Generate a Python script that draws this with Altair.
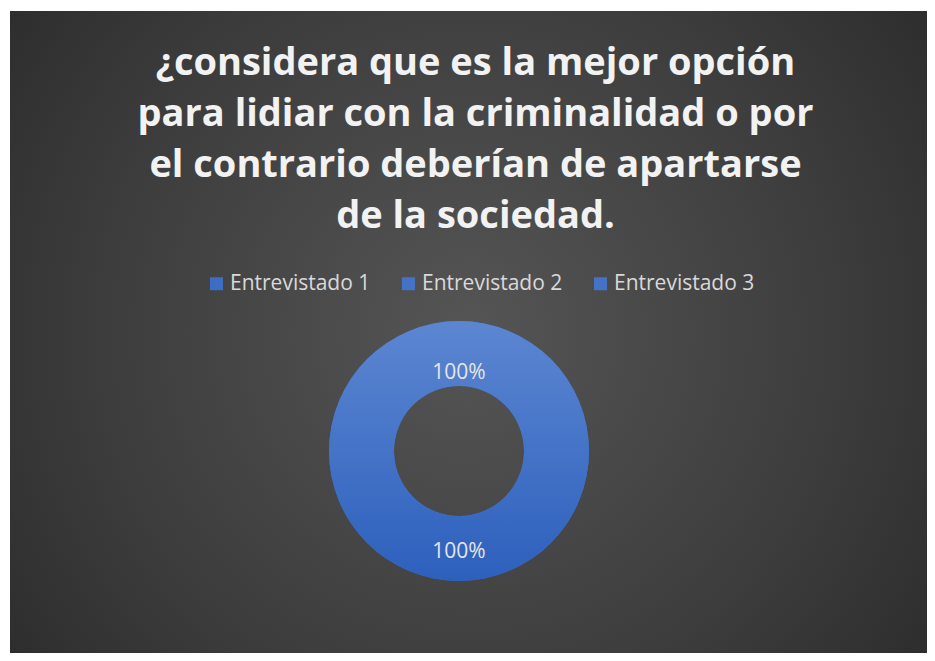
import altair as alt
import pandas as pd

# ---- data ----
title_lines = [
    "¿considera que es la mejor opción",
    "para lidiar con la criminalidad o por",
    "el contrario deberían de apartarse",
    "de la sociedad.",
]
categories = ["Entrevistado 1", "Entrevistado 2", "Entrevistado 3"]
values = [1, 0, 0]
labels = ["100%", "100%", ""]
legend_colors = ["#3E6DC4", "#4472C4", "#4472C4"]

df = pd.DataFrame({"category": categories, "value": values, "label": labels,
                   "order": list(range(len(categories)))})

W, H = 917, 642
CX, CY = 449, 440
TX = 465.5

bg_grad = alt.RadialGradient(
    gradient="radial",
    stops=[alt.GradientStop(color="#555555", offset=0),
           alt.GradientStop(color="#3D3D3D", offset=0.55),
           alt.GradientStop(color="#262626", offset=1)],
    x1=0.5, y1=0.5, r1=0, x2=0.5, y2=0.5, r2=0.72,
)

background = alt.Chart(pd.DataFrame({"t": [0]})).mark_rect(fill=bg_grad).encode(
    x=alt.value(0), x2=alt.value(W), y=alt.value(0), y2=alt.value(H)
)

base = alt.Chart(df).encode(
    theta=alt.Theta("value:Q", stack=True),
    order=alt.Order("order:Q"),
    x=alt.value(CX),
    y=alt.value(CY),
)

legend_arc = base.mark_arc(outerRadius=130, innerRadius=65).encode(
    color=alt.Color(
        "category:N",
        scale=alt.Scale(domain=categories, range=legend_colors),
        legend=alt.Legend(
            title=None, orient="none", direction="horizontal",
            legendX=196, legendY=262,
            symbolType="square", symbolSize=169, symbolStrokeWidth=0,
            labelFont="Open Sans", labelFontSize=21, labelColor="#D9D9D9",
            labelOffset=3, columnPadding=27, padding=0,
        ),
    )
)

ring = base.mark_arc(
    outerRadius=130, innerRadius=65,
    fill=alt.LinearGradient(
        gradient="linear",
        stops=[alt.GradientStop(color="#5C86D1", offset=0),
               alt.GradientStop(color="#2D60BD", offset=1)],
        x1=0, y1=0, x2=0, y2=1,
    ),
)

pct = base.mark_text(
    radius=89.5, dy=11.5, font="Open Sans", fontSize=21, color="#E6E6E6",
    align="center", baseline="middle",
).encode(text="label:N", detail="category:N")

title = alt.Chart(pd.DataFrame({"t": [0]})).mark_text(
    text=title_lines, font="Open Sans", fontSize=38, fontWeight="bold",
    color="#F2F2F2", lineHeight=51, align="center", baseline="middle",
).encode(x=alt.value(TX), y=alt.value(53))

chart = alt.layer(background, legend_arc, ring, pct, title).properties(
    width=W, height=H,
    autosize=alt.AutoSizeParams(type="none"),
    padding={"left": 2, "top": 3, "right": 0, "bottom": 0},
    background="white",
).configure_view(stroke=None)

chart.save("out.html", embed_options={"renderer": "svg", "actions": False})
